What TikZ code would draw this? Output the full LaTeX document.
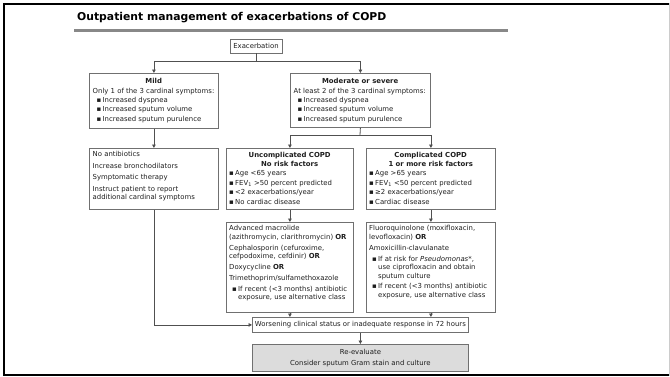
\documentclass[tikz,border=0pt]{standalone}
\usepackage{fontspec}
\setmainfont{DejaVu Sans}
\usetikzlibrary{arrows.meta}
\setlength\parindent{0pt}
\definecolor{linec}{HTML}{505050}
\definecolor{boxc}{HTML}{707070}
\definecolor{fillc}{HTML}{DCDCDC}
\definecolor{barc}{HTML}{888888}
\definecolor{framer}{HTML}{CCCCCC}
\definecolor{txtc}{HTML}{1E1E1E}
\newcommand\dtxt{\fontsize{6.9}{8.5}\selectfont}
\newcommand\bul{\makebox[6pt][l]{▪}}
\tikzset{
  box/.style={draw=boxc, line width=0.8pt, rectangle, inner sep=0pt, anchor=north west, font=\dtxt, text=txtc},
  txt/.style={anchor=north west, inner sep=0pt, align=left, font=\dtxt, text=txtc},
  conn/.style={draw=linec, line width=0.8pt},
  arr/.style={conn, -{Triangle[length=3.5pt,width=3.6pt]}},
}
\begin{document}
\begin{tikzpicture}[x=1pt,y=-1pt]
\useasboundingbox (0,0) rectangle (670,376);
% frame
\draw[framer, line width=1pt] (669,3) -- (669,376);
\draw[black, line width=2pt] (3,4) -- (669,4);
\draw[black, line width=2pt] (4,3) -- (4,376);
\draw[black, line width=2pt] (3,375) -- (669,375);
% title
\node[anchor=base west, inner sep=0pt, font=\fontsize{10.8}{12}\selectfont\bfseries] (title) at (77,20.5) {Outpatient management of exacerbations of COPD};
\fill[barc] (74,29) rectangle (508,32);
% boxes
\node[box, anchor=center, minimum width=52pt, minimum height=14pt] (exac) at (256,46) {Exacerbation};
\node[box, minimum width=129pt, minimum height=55pt] (mild) at (89,73) {};
\node[box, minimum width=140pt, minimum height=54pt] (mod) at (290,73) {};
\node[box, minimum width=129pt, minimum height=61pt] (noab) at (89,148) {};
\node[box, minimum width=127pt, minimum height=61pt] (unc) at (226,148) {};
\node[box, minimum width=129pt, minimum height=61pt] (comp) at (366,148) {};
\node[box, minimum width=127pt, minimum height=90pt] (uncd) at (226,222) {};
\node[box, minimum width=129pt, minimum height=90pt] (compd) at (366,222) {};
\node[box, minimum width=216pt, minimum height=15pt] (worse) at (252,317) {Worsening clinical status or inadequate response in 72 hours};
\node[box, fill=fillc, align=center, minimum width=216pt, minimum height=27pt] (reev) at (252,344) {Re-evaluate\\[2.6pt]Consider sputum Gram stain and culture};
% texts
\node[txt] (mildT) at ([xshift=3.5pt,yshift=-5.3pt]mild.north west)
  {\makebox[122pt]{\bfseries Mild}\\[0.9pt]
   Only 1 of the 3 cardinal symptoms:\\[0.9pt]
   \hspace*{4pt}\bul Increased dyspnea\\[0.9pt]
   \hspace*{4pt}\bul Increased sputum volume\\[0.9pt]
   \hspace*{4pt}\bul Increased sputum purulence};
\node[txt] (modT) at ([xshift=3.5pt,yshift=-5.3pt]mod.north west)
  {\makebox[133pt]{\bfseries Moderate or severe}\\[0.9pt]
   At least 2 of the 3 cardinal symptoms:\\[0.9pt]
   \hspace*{4pt}\bul Increased dyspnea\\[0.9pt]
   \hspace*{4pt}\bul Increased sputum volume\\[0.9pt]
   \hspace*{4pt}\bul Increased sputum purulence};
\node[txt] (noabT) at ([xshift=3.5pt,yshift=-3.3pt]noab.north west)
  {No antibiotics\\[3pt]
   Increase bronchodilators\\[3pt]
   Symptomatic therapy\\[3pt]
   Instruct patient to report\\
   additional cardinal symptoms};
\node[txt] (uncT) at ([xshift=3pt,yshift=-3.8pt]unc.north west)
  {\makebox[121pt]{\bfseries Uncomplicated COPD}\\[0.5pt]
   \makebox[121pt]{\bfseries No risk factors}\\[1pt]
   \bul Age <65 years\\[1pt]
   \bul FEV\textsubscript{1} >50 percent predicted\\[1pt]
   \bul <2 exacerbations/year\\[1pt]
   \bul No cardiac disease};
\node[txt] (compT) at ([xshift=3pt,yshift=-3.8pt]comp.north west)
  {\makebox[123pt]{\bfseries Complicated COPD}\\[0.5pt]
   \makebox[123pt]{\bfseries 1 or more risk factors}\\[1pt]
   \bul Age >65 years\\[1pt]
   \bul FEV\textsubscript{1} <50 percent predicted\\[1pt]
   \bul ≥2 exacerbations/year\\[1pt]
   \bul Cardiac disease};
\node[txt] (uncdT) at ([xshift=3pt,yshift=-3.3pt]uncd.north west)
  {Advanced macrolide\\
   (azithromycin, clarithromycin) \textbf{OR}\\[2.4pt]
   Cephalosporin (cefuroxime,\\
   cefpodoxime, cefdinir) \textbf{OR}\\[2.4pt]
   Doxycycline \textbf{OR}\\[2.4pt]
   Trimethoprim/sulfamethoxazole\\[2.4pt]
   \hspace*{3pt}\bul If recent (<3 months) antibiotic\\
   \hspace*{9pt}exposure, use alternative class};
\node[txt] (compdT) at ([xshift=3pt,yshift=-3.3pt]compd.north west)
  {Fluoroquinolone (moxifloxacin,\\
   levofloxacin) \textbf{OR}\\[2.4pt]
   Amoxicillin-clavulanate\\[2.4pt]
   \hspace*{3pt}\bul If at risk for \textit{Pseudomonas}*,\\
   \hspace*{9pt}use ciprofloxacin and obtain\\
   \hspace*{9pt}sputum culture\\[2.4pt]
   \hspace*{3pt}\bul If recent (<3 months) antibiotic\\
   \hspace*{9pt}exposure, use alternative class};
% connectors
\coordinate (split1) at (256,61);
\coordinate (split2) at (360,135);
\draw[conn] (exac.south) -- (split1);
\draw[arr] (split1) -| (mild.north);
\draw[arr] (split1) -| (mod.north);
\draw[conn] (mod.south) -- (split2);
\draw[arr] (split2) -| (unc.north);
\draw[arr] (split2) -| (comp.north);
\draw[arr] (mild.south) -- (noab.north);
\draw[arr] (unc.south) -- (uncd.north);
\draw[arr] (comp.south) -- (compd.north);
\draw[arr] (uncd.south) -- (uncd.south |- worse.north);
\draw[arr] (compd.south) -- (compd.south |- worse.north);
\draw[arr] (noab.south) |- (worse.west);
\draw[arr] (worse.south) -- (reev.north);
\end{tikzpicture}
\end{document}
